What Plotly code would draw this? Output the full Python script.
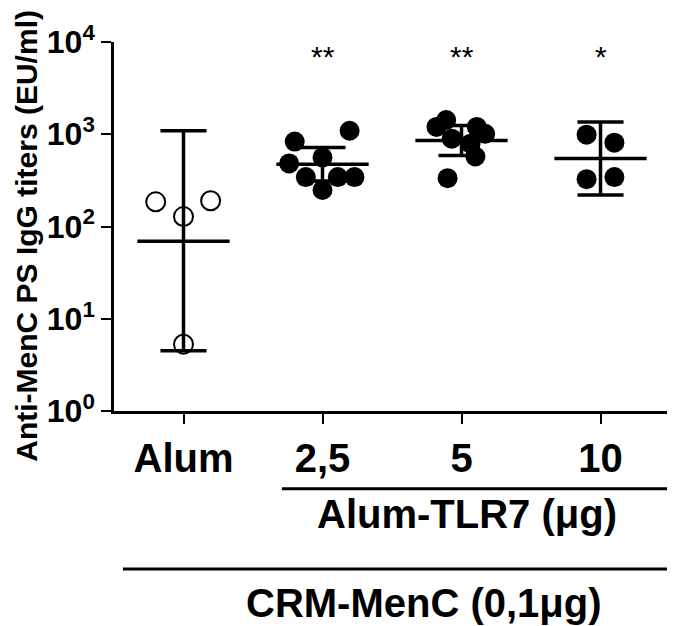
import plotly.graph_objects as go

# ---------------- data ----------------
categories = ["Alum", "2,5", "5", "10"]

alum_vals = [185, 190, 128, 5.3]
alum_jitter = [-0.20, 0.195, 0.0, 0.0]

tlr25_vals = [832, 1090, 483, 561, 343, 343, 343, 249]
tlr25_jitter = [-0.20, 0.195, -0.24, 0.0, -0.12, 0.11, 0.23, 0.0]

tlr5_vals = [1429, 1202, 1202, 1012, 895, 791, 574, 334]
tlr5_jitter = [-0.11, -0.18, 0.11, 0.17, -0.07, 0.065, 0.10, -0.10]

tlr10_vals = [989, 811, 326, 343]
tlr10_jitter = [-0.10, 0.10, -0.10, 0.10]

geo_means = [69, 472, 855, 547]
ci_lower = [4.5, 312, 589, 220]
ci_upper = [1089, 718, 1242, 1361]

significance = ["", "**", "**", "*"]

y_tick_vals = [1, 10, 100, 1000, 10000]
y_tick_text = ["10<sup>0</sup>", "10<sup>1</sup>", "10<sup>2</sup>",
               "10<sup>3</sup>", "10<sup>4</sup>"]

y_title = "Anti-MenC PS IgG titers (EU/ml)"
group_label = "Alum-TLR7 (\u03bcg)"
base_label = "CRM-MenC (0,1\u03bcg)"

# ---------------- figure ----------------
FONT = "Liberation Sans, Arial, Helvetica, sans-serif"
fig = go.Figure()

groups = [(0, alum_vals, alum_jitter, True),
          (1, tlr25_vals, tlr25_jitter, False),
          (2, tlr5_vals, tlr5_jitter, False),
          (3, tlr10_vals, tlr10_jitter, False)]

for idx, vals, jit, is_open in groups:
    xs = [idx + j for j in jit]
    if is_open:
        marker = dict(symbol="circle-open", size=19, color="black",
                      line=dict(width=2, color="black"))
    else:
        marker = dict(symbol="circle", size=20, color="black",
                      line=dict(width=0))
    fig.add_trace(go.Scatter(x=xs, y=vals, mode="markers", marker=marker,
                             showlegend=False, hoverinfo="skip"))

HALF_MEAN = 0.332
HALF_CAP = 0.166
LW = 3.5

mx, my = [], []
for i, m in enumerate(geo_means):
    mx += [i - HALF_MEAN, i + HALF_MEAN, None]
    my += [m, m, None]
fig.add_trace(go.Scatter(x=mx, y=my, mode="lines",
                         line=dict(color="black", width=LW),
                         showlegend=False, hoverinfo="skip"))

ex, ey = [], []
for i, (lo, hi) in enumerate(zip(ci_lower, ci_upper)):
    ex += [i, i, None]
    ey += [lo, hi, None]
    ex += [i - HALF_CAP, i + HALF_CAP, None]
    ey += [lo, lo, None]
    ex += [i - HALF_CAP, i + HALF_CAP, None]
    ey += [hi, hi, None]
fig.add_trace(go.Scatter(x=ex, y=ey, mode="lines",
                         line=dict(color="black", width=LW),
                         showlegend=False, hoverinfo="skip"))

annotations = []
for i, s in enumerate(significance):
    if s:
        annotations.append(dict(x=i, xref="x", y=1, yref="paper",
                                yshift=-14, text=s, showarrow=False,
                                xanchor="center", yanchor="middle",
                                font=dict(family=FONT, size=30, color="black")))

# y axis title
annotations.append(dict(x=0, xref="paper", xshift=-87, y=0.475, yref="paper",
                        text=y_title, textangle=-90, showarrow=False,
                        xanchor="center", yanchor="middle",
                        font=dict(family=FONT, size=30, color="black",
                                  weight="bold")))
# group labels below axis
annotations.append(dict(x=0.635, xref="paper", y=-0.278, yref="paper",
                        text=group_label, showarrow=False,
                        xanchor="center", yanchor="middle",
                        font=dict(family=FONT, size=40, color="black",
                                  weight="bold")))
annotations.append(dict(x=0.558, xref="paper", y=-0.521, yref="paper",
                        text=base_label, showarrow=False,
                        xanchor="center", yanchor="middle",
                        font=dict(family=FONT, size=40, color="black",
                                  weight="bold")))

shapes = [
    dict(type="line", xref="paper", yref="paper", x0=0.302, x1=1.011,
         y0=-0.211, y1=-0.211, line=dict(color="black", width=3)),
    dict(type="line", xref="paper", yref="paper", x0=0.016, x1=1.03,
         y0=-0.428, y1=-0.428, line=dict(color="black", width=3)),
]

fig.update_layout(
    width=675, height=626,
    margin=dict(l=106, r=13, t=29, b=223),
    paper_bgcolor="white", plot_bgcolor="white",
    annotations=annotations, shapes=shapes,
    showlegend=False,
    xaxis=dict(range=[-0.5, 3.5], tickmode="array",
               tickvals=list(range(len(categories))), ticktext=categories,
               showline=True, linecolor="black", linewidth=2.5,
               ticks="outside", ticklen=10, tickwidth=2, tickcolor="black",
               showgrid=False, zeroline=False,
               tickfont=dict(family=FONT, size=40, color="black",
                             weight="bold")),
    yaxis=dict(type="log", range=[0, 4], tickmode="array",
               tickvals=y_tick_vals, ticktext=y_tick_text,
               showline=True, linecolor="black", linewidth=2.5,
               ticks="outside", ticklen=10, tickwidth=2, tickcolor="black",
               showgrid=False, zeroline=False,
               tickfont=dict(family=FONT, size=32, color="black",
                             weight="bold")),
)

fig.write_html("out.html")
